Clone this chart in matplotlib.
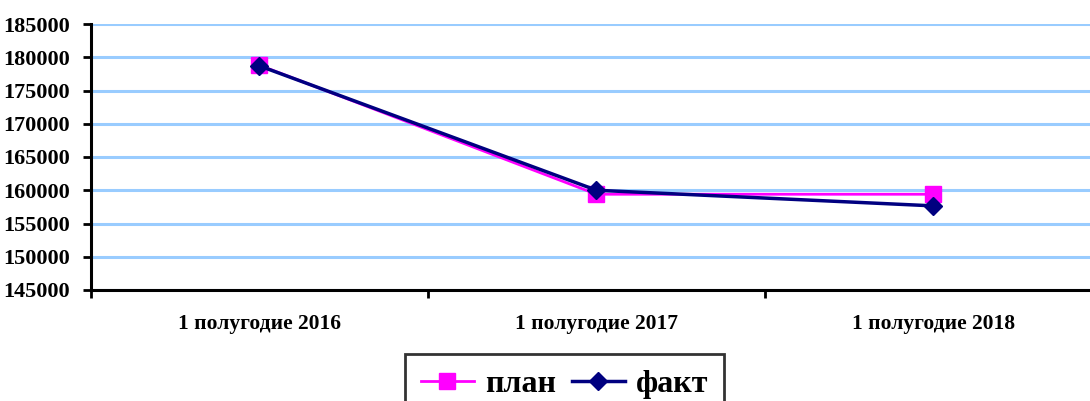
import matplotlib
matplotlib.use("Agg")
from matplotlib import pyplot as plt

# === DATA ===
categories = ["1 полугодие 2016", "1 полугодие 2017", "1 полугодие 2018"]
plan = [178800, 159400, 159400]
fact = [178700, 160000, 157650]
yticks = [145000, 150000, 155000, 160000, 165000, 170000, 175000, 180000, 185000]

# === STYLE ===
plt.rcParams['font.family'] = ['Liberation Serif', 'DejaVu Serif']
plt.rcParams['font.weight'] = 'bold'

fig = plt.figure(figsize=(10.9, 4.01), dpi=100)
# axis runs past the right edge like in the original
ax = fig.add_axes([91 / 1090, 111 / 401, 1011 / 1090, 266 / 401])

xpos = [i + 0.5 for i in range(len(categories))]

for y in yticks:
    ax.axhline(y, color="#99ccff", lw=2.2, zorder=1)

ax.plot(xpos, plan, color="#ff00ff", lw=2, marker="s", ms=11,
        mec="#ff00ff", mfc="#ff00ff", label="план", zorder=3)
ax.plot(xpos, fact, color="#000080", lw=2.5, marker="D", ms=9.5,
        mec="#000080", mfc="#000080", label="факт", zorder=4)

ax.set_xlim(0, 3)
ax.set_ylim(145000, 185000)
ax.set_yticks(yticks)
ax.set_yticklabels([str(v) for v in yticks], fontsize=16, fontweight="bold")

ax.set_xticks([0, 1, 2, 3])
ax.set_xticklabels([])
ax.set_xticks(xpos, minor=True)
ax.set_xticklabels(categories, minor=True, fontsize=15.5, fontweight="bold")
ax.tick_params(axis="x", which="major", length=6, width=2, direction="out")
ax.tick_params(axis="x", which="minor", length=0, pad=17)
ax.tick_params(axis="y", length=6, width=2, direction="out", pad=9)

for side in ["top", "right"]:
    ax.spines[side].set_visible(False)
for side in ["left", "bottom"]:
    ax.spines[side].set_linewidth(2.2)
    ax.spines[side].set_zorder(5)

leg = fig.legend(loc="upper left", bbox_to_anchor=(405 / 1090, 1 - 354 / 401),
                 ncol=2, frameon=True, fancybox=False, edgecolor="black",
                 prop={"size": 23, "weight": "bold"}, handlelength=1.65,
                 columnspacing=0.5, handletextpad=0.35, borderpad=0.5,
                 borderaxespad=0)
leg.get_frame().set_linewidth(2)

fig.savefig("out.png", dpi=100)
